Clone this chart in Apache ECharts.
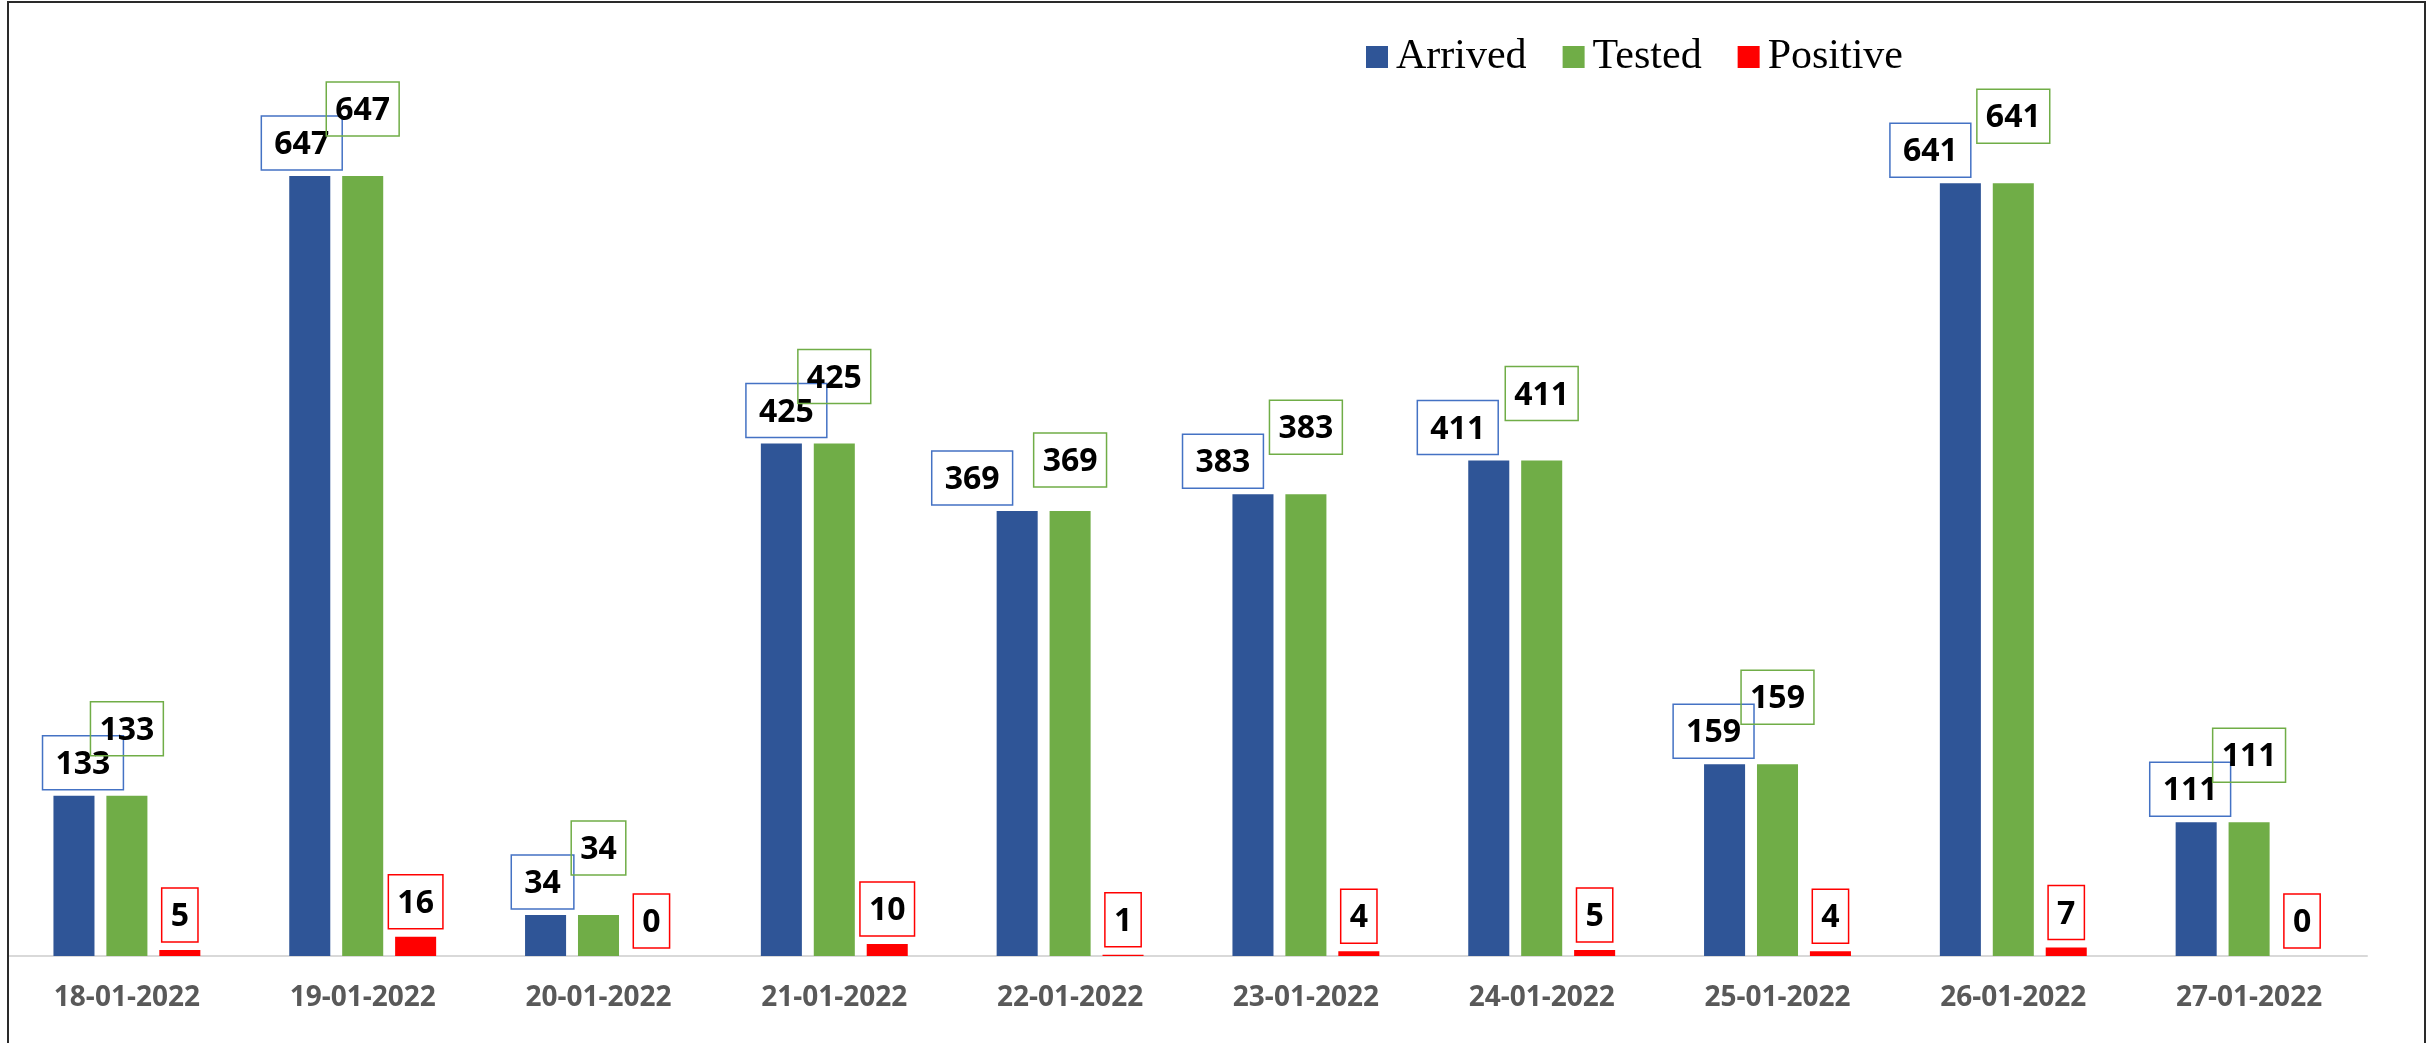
<!DOCTYPE html>
<html><head><meta charset="utf-8">
<script src="https://cdn.jsdelivr.net/npm/echarts@6/dist/echarts.min.js"></script>
<style>html,body{margin:0;padding:0;background:#fff}#c{width:2433px;height:1043px}</style>
</head><body><div id="c"></div>
<script>
const categories = ['18-01-2022','19-01-2022','20-01-2022','21-01-2022','22-01-2022','23-01-2022','24-01-2022','25-01-2022','26-01-2022','27-01-2022'];
const arrived = [133, 647, 34, 425, 369, 383, 411, 159, 641, 111];
const tested = [133, 647, 34, 425, 369, 383, 411, 159, 641, 111];
const positive = [5, 16, 0, 10, 1, 4, 5, 4, 7, 0];
const seriesNames = ['Arrived', 'Tested', 'Positive'];

// label placement nudges (layout only, as in the original manual label placement)
const arrivedLabelShift = [9, -8, -3, 5, -45, -30, -31, -11, -30, -6];
const testedLabelLift = [40, 40, 40, 40, 24, 40, 40, 40, 40, 40];

const labelBase = {
  show: true, position: 'top', color: '#000',
  fontFamily: 'Open Sans', fontWeight: 'bold', fontSize: 32, lineHeight: 34,
  borderWidth: 1.5
};

const chart = echarts.init(document.getElementById('c'));
chart.setOption({
  animation: false,
  backgroundColor: '#fff',
  graphic: [{
    type: 'rect', shape: { x: 8, y: 2, width: 2417, height: 1100 },
    style: { fill: 'none', stroke: '#2a2a2a', lineWidth: 2 }, silent: true, z: 100
  }],
  legend: {
    left: 1361, top: 31, itemWidth: 22, itemHeight: 22, itemGap: 36,
    icon: 'rect',
    textStyle: { fontFamily: 'Liberation Serif', fontSize: 42, color: '#000', padding: [0, 0, 0, 3] },
    data: seriesNames
  },
  grid: { left: 9, right: 66, top: 112, bottom: 87, containLabel: false },
  xAxis: {
    type: 'category', data: categories,
    axisTick: { show: false },
    axisLine: { lineStyle: { color: '#d9d9d9', width: 2 } },
    axisLabel: { color: '#595959', fontFamily: 'Open Sans', fontWeight: 'bold', fontSize: 28, margin: 28 }
  },
  yAxis: {
    type: 'value', min: 0, max: 700, show: false,
    splitLine: { show: false }
  },
  series: [
    {
      name: seriesNames[0], type: 'bar', barGap: '29%', barCategoryGap: '37.7%',
      itemStyle: { color: '#2f5597' },
      label: Object.assign({}, labelBase, { distance: 6, borderColor: '#4472c4', padding: [12, 13, 8, 13] }),
      data: arrived.map((v, i) => ({ value: v, label: { offset: [arrivedLabelShift[i], 0] } }))
    },
    {
      name: seriesNames[1], type: 'bar', barGap: '29%', barCategoryGap: '37.7%',
      itemStyle: { color: '#70ad47' },
      label: Object.assign({}, labelBase, { distance: 40, borderColor: '#70ad47', padding: [12, 9, 8, 9] }),
      data: tested.map((v, i) => ({ value: v, label: { distance: testedLabelLift[i] } }))
    },
    {
      name: seriesNames[2], type: 'bar', barGap: '29%', barCategoryGap: '37.7%',
      itemStyle: { color: '#ff0000' },
      label: Object.assign({}, labelBase, { distance: 8, borderColor: '#ff0000', padding: [12, 9, 8, 9] }),
      data: positive
    }
  ]
});
</script></body></html>
